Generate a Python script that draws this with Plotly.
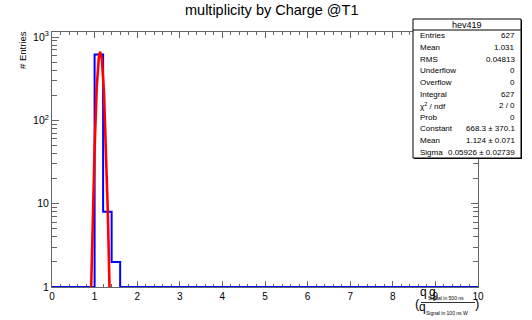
import plotly.graph_objects as go

# histogram of q(500 ns) / q(100 ns W), bins of 0.2 from 0 to 10
bin_edges = [0, 1.0, 1.2, 1.4, 1.6, 10]
bin_counts = [0, 617, 8, 2, 0]

# gaus fit as drawn
fit_x = [0.92, 0.96, 1.0, 1.05, 1.1, 1.13, 1.17, 1.22, 1.27, 1.31, 1.35]
fit_y = [1, 8, 45, 250, 580, 665, 540, 220, 45, 8, 1]

y_tickvals = [1, 10, 100, 1000]
y_ticktext = ["1", "10", "10<sup>2</sup>", "10<sup>3</sup>"]
x_tickvals = list(range(0, 11))

stats_title = "hev419"
stats_labels = ["Entries", "Mean", "RMS", "Underflow", "Overflow", "Integral",
                "χ<sup>2</sup> / ndf", "Prob", "Constant", "Mean", "Sigma"]
stats_values = ["627", "1.031", "0.04813", "0", "0", "627", "2 / 0", "0",
                "668.3 ± 370.1", "1.124 ± 0.071", "0.05926 ± 0.02739"]

FONT = "Liberation Sans, Arial, sans-serif"
AX = "#666666"

# frame in page pixels
L, R, T, B = 52, 478, 32, 287


def px(x):
    return (x - L) / (R - L)


def py(y):
    return (B - y) / (B - T)


def text(x, y, s, size, xa="center", **kw):
    return dict(x=px(x), y=py(y), xref="paper", yref="paper", text=s, showarrow=False,
                xanchor=xa, yanchor="middle", font=dict(size=size), **kw)


# step line, empty bins sit on the axis floor (1)
step_y = [max(c, 1) for c in bin_counts]
step_y.append(step_y[-1])

fig = go.Figure()
fig.add_trace(go.Scatter(x=bin_edges, y=step_y, mode="lines", line_shape="hv",
                         line=dict(color="#0000ff", width=2), hoverinfo="skip"))
fig.add_trace(go.Scatter(x=fit_x, y=fit_y, mode="lines",
                         line=dict(color="#ff0000", width=2.6), hoverinfo="skip"))

minor_y = [m * d for d in (1, 10, 100, 1000) for m in range(2, 10)]

fig.update_layout(
    width=532, height=320,
    margin=dict(l=L, r=532 - R, t=T, b=320 - B, autoexpand=False),
    paper_bgcolor="white", plot_bgcolor="white",
    showlegend=False,
    font=dict(family=FONT, color="black", size=10),
    xaxis=dict(range=[0, 10], showgrid=False, zeroline=False,
               showline=True, linecolor=AX, linewidth=1, mirror="allticks",
               ticks="inside", ticklen=6, tickcolor=AX, tickwidth=1,
               tickvals=x_tickvals, tickfont=dict(size=10),
               minor=dict(dtick=0.2, ticks="inside", ticklen=3, tickcolor=AX, showgrid=False),
               layer="below traces"),
    yaxis=dict(type="log", range=[0, 3.06], showgrid=False, zeroline=False,
               showline=True, linecolor=AX, linewidth=1, mirror="allticks",
               ticks="inside", ticklen=7, tickcolor=AX, tickwidth=1,
               tickvals=y_tickvals, ticktext=y_ticktext, tickfont=dict(size=10.5),
               minor=dict(tickvals=minor_y, ticks="inside", ticklen=5, tickcolor=AX, showgrid=False),
               layer="below traces"),
)

ann = []
shapes = []

# title and y title
ann.append(text(271, 10, "multiplicity by Charge @T1", 14.5))
ann.append(text(23, 50, "# Entries", 9.5, textangle=-90))

# x title (fraction)
ann.append(text(417, 303, "(", 13))
ann.append(text(477, 303, ")", 13))
ann.append(text(423, 292, "q", 12))
ann.append(text(432, 292, "g", 12))
ann.append(text(446, 298, "Signal in 500 ns", 5))
ann.append(text(422, 307, "q", 12))
ann.append(text(446.5, 313, "Signal in 100 ns W", 5))
shapes.append(dict(type="line", xref="paper", yref="paper", x0=px(421), x1=px(475),
                   y0=py(302.5), y1=py(302.5), line=dict(color="#333333", width=1)))

# stats box
bx0, bx1, by0, by1, hy = 413, 521, 19, 158, 30
shapes.append(dict(type="rect", xref="paper", yref="paper", x0=px(bx0 + 1), x1=px(bx1 + 1),
                   y0=py(by0 + 1), y1=py(by1 + 1), line=dict(width=0), fillcolor="black"))
shapes.append(dict(type="rect", xref="paper", yref="paper", x0=px(bx0), x1=px(bx1),
                   y0=py(by0), y1=py(by1), line=dict(color="black", width=1), fillcolor="white"))
shapes.append(dict(type="line", xref="paper", yref="paper", x0=px(bx0), x1=px(bx1),
                   y0=py(hy), y1=py(hy), line=dict(color="black", width=1)))
ann.append(text((bx0 + bx1) / 2, 24.5, stats_title, 9))
row_h = (by1 - hy) / len(stats_labels)
for i, (lab, val) in enumerate(zip(stats_labels, stats_values)):
    yy = hy + row_h * (i + 0.5)
    ann.append(text(418, yy, lab, 8, xa="left"))
    ann.append(text(516.5, yy, val, 8, xa="right"))

fig.update_layout(annotations=ann, shapes=shapes)

# page body has a default 8px margin, drop it so the figure sits at 0,0
fig.write_html("out.html", config={"displayModeBar": False},
               post_script="document.body.style.margin='0px';")
